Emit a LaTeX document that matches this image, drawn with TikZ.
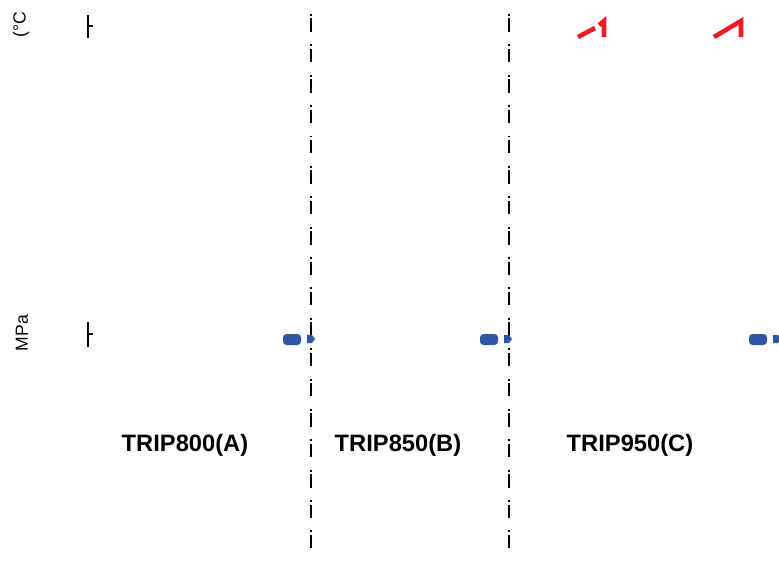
\documentclass[tikz,border=0pt]{standalone}
\usepackage{fontspec}
\setmainfont{Liberation Sans}
\definecolor{tempred}{RGB}{237, 28, 36}
\definecolor{presblue}{RGB}{47, 85, 166}
\usetikzlibrary{positioning, calc}

\begin{document}
\begin{tikzpicture}[
  x=0.02cm, y=-0.02cm,
  sep/.style={line width=1.1pt, dash pattern=on 1.13pt off 1.42pt on 7.65pt off 7.09pt},
  triplabel/.style={font=\fontsize{13.5}{16}\selectfont\bfseries, inner sep=0pt},
  axlabel/.style={font=\fontsize{10}{12}\selectfont, rotate=90, inner sep=0pt},
  axbar/.style={line width=1.3pt},
  tempcurve/.style={tempred, line width=2.6pt},
  presblob/.style={fill=presblue, rounded corners=2pt}
]
  \useasboundingbox (0,0) rectangle (779,568);

  % separators between the three runs
  \coordinate (sepAtop) at (311,14);
  \coordinate (sepAbot) at (311,553);
  \coordinate (sepBtop) at (509,14);
  \coordinate (sepBbot) at (509,553);
  \draw[sep] (sepAtop) -- (sepAbot);
  \draw[sep] (sepBtop) -- (sepBbot);

  % axis stubs
  \node[axlabel] (templabel) at (21,25) {(°C};
  \node[axlabel] (preslabel) at (22,333) {MPa};
  \draw[axbar] (88,15) -- (88,38) (88,26) -- (93,26);
  \draw[axbar] (88,322) -- (88,347) (88,334) -- (93,334);

  % temperature peaks
  \draw[tempcurve] (578,37) -- (595,28);
  \draw[tempcurve] (599,25) -- (604,21) -- (604,37);
  \draw[tempcurve] (714,37) -- (741,21) -- (741,37);

  % pressure markers
  \foreach \xb in {283, 480, 749} {
    \fill[presblob] (\xb,334) rectangle ++(18,11);
    \fill[presblue] (\xb+24,335) -- ++(5,0) -- ++(3,4) -- ++(-3,4) -- ++(-5,0) -- cycle;
  }

  \node[triplabel] (tripA) at (185,445) {TRIP800(A)};
  \node[triplabel] (tripB) at (398,445) {TRIP850(B)};
  \node[triplabel] (tripC) at (630,445) {TRIP950(C)};
\end{tikzpicture}
\end{document}
